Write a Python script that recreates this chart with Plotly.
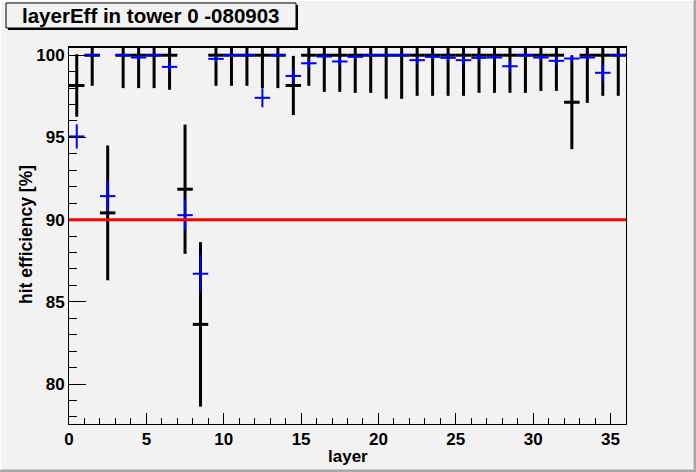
import plotly.graph_objects as go

# ---- data ----
layers = list(range(36))
black_eff = [98.16, 100, 90.41, 100, 100, 100, 100, 91.85, 83.63, 100,
             100, 100, 100, 100, 98.16, 100, 100, 100, 100, 100,
             100, 100, 100, 100, 100, 100, 100, 100, 100, 100,
             100, 100, 97.14, 100, 100, 100]
black_err = [1.9, 1.86, 4.1, 2.0, 2.0, 2.0, 2.1, 3.93, 5.0, 1.86,
             1.86, 1.86, 2.0, 2.0, 1.8, 1.86, 2.23, 2.23, 2.29, 2.29,
             2.65, 2.65, 2.47, 2.47, 2.47, 2.47, 2.29, 2.29, 2.29, 2.29,
             2.17, 2.17, 2.85, 2.9, 2.47, 2.47]
blue_eff = [95.06, 100, 91.43, 100, 99.86, 100, 99.29, 90.27, 86.71, 99.78,
            100, 100, 97.41, 100, 98.74, 99.51, 99.92, 99.62, 99.9, 100,
            100, 100, 99.7, 99.9, 99.84, 99.7, 99.84, 99.86, 99.33, 100,
            99.86, 99.66, 99.8, 99.86, 98.93, 100]
blue_err = [0.74, 0.08, 0.93, 0.08, 0.18, 0.08, 0.3, 0.95, 1.15, 0.2,
            0.08, 0.08, 0.58, 0.08, 0.4, 0.3, 0.12, 0.22, 0.15, 0.08,
            0.08, 0.08, 0.25, 0.15, 0.18, 0.28, 0.18, 0.18, 0.35, 0.08,
            0.18, 0.27, 0.2, 0.18, 0.5, 0.08]
threshold = 90
title_text = "layerEff in tower 0 -080903"
x_title = "layer"
y_title = "hit efficiency [%]"

bin_width = 1.0
xc = [l + bin_width / 2 for l in layers]
half = [bin_width / 2] * len(layers)

W, H = 696, 472
L, R, T, B = 69, 70, 47, 48
PW, PH = W - L - R, H - T - B
BG = "#f2f2f2"
FONT = "Liberation Sans"


def px(x):
    return (x - L) / PW


def py(y):
    return (H - B - y) / PH


fig = go.Figure()
fig.add_trace(go.Scatter(
    x=xc, y=black_eff, mode="markers",
    marker=dict(size=0.1, color="black", opacity=0),
    error_x=dict(type="data", array=half, color="black", thickness=3, width=0),
    error_y=dict(type="data", array=black_err, color="black", thickness=3, width=0),
    showlegend=False, hoverinfo="skip"))
fig.add_trace(go.Scatter(
    x=xc, y=blue_eff, mode="markers",
    marker=dict(size=0.1, color="blue", opacity=0),
    error_x=dict(type="data", array=half, color="#0000ff", thickness=2, width=0),
    error_y=dict(type="data", array=blue_err, color="#0000ff", thickness=2, width=0),
    showlegend=False, hoverinfo="skip"))

shapes = [
    dict(type="line", xref="x", yref="y", x0=0, x1=36, y0=threshold, y1=threshold,
         line=dict(color="#ff0000", width=3), layer="above"),
    # top frame drawn slightly heavier, as in the reference
    dict(type="line", xref="paper", yref="paper", x0=0, x1=1, y0=py(47), y1=py(47),
         line=dict(color="black", width=2), layer="above"),
    # canvas bevel
    dict(type="line", xref="paper", yref="paper", x0=px(W - 1), x1=px(W - 1), y0=py(0), y1=py(H),
         line=dict(color="#a8a8a8", width=3)),
    dict(type="line", xref="paper", yref="paper", x0=px(0), x1=px(W), y0=py(H - 1), y1=py(H - 1),
         line=dict(color="#a8a8a8", width=3)),
    dict(type="line", xref="paper", yref="paper", x0=px(0.5), x1=px(0.5), y0=py(0), y1=py(H - 2),
         line=dict(color="#ffffff", width=1)),
    dict(type="line", xref="paper", yref="paper", x0=px(0), x1=px(W - 2), y0=py(0.5), y1=py(0.5),
         line=dict(color="#ffffff", width=1)),
    # title box shadow + box
    dict(type="rect", xref="paper", yref="paper", x0=px(8), x1=px(298), y0=py(5), y1=py(30),
         fillcolor="black", line=dict(width=0)),
    dict(type="rect", xref="paper", yref="paper", x0=px(6), x1=px(296), y0=py(3), y1=py(28),
         fillcolor=BG, line=dict(color="black", width=1)),
]

annotations = [
    dict(text=title_text, xref="paper", yref="paper", x=px(151), y=py(16),
         xanchor="center", yanchor="middle", showarrow=False,
         font=dict(family=FONT, size=20.5, color="black", weight="bold")),
    dict(text=x_title, xref="paper", yref="paper", x=px(347.5), y=py(456),
         xanchor="center", yanchor="middle", showarrow=False,
         font=dict(family=FONT, size=17, color="black", weight="bold")),
    dict(text=y_title, xref="paper", yref="paper", x=px(26), y=py(235),
         xanchor="center", yanchor="middle", showarrow=False, textangle=-90,
         font=dict(family=FONT, size=17.5, color="black", weight="bold")),
]

tickfont = dict(family=FONT, size=17, color="black", weight="bold")
fig.update_layout(
    width=W, height=H, autosize=False,
    margin=dict(l=L, r=R, t=T, b=B, pad=0),
    paper_bgcolor=BG, plot_bgcolor=BG,
    shapes=shapes, annotations=annotations,
    xaxis=dict(range=[0, 36], showgrid=False, zeroline=False,
               showline=True, linecolor="black", linewidth=1, mirror=True,
               ticks="inside", ticklen=11, tickwidth=1, tickcolor="black",
               tick0=0, dtick=5, tickfont=tickfont,
               minor=dict(ticks="inside", ticklen=6, dtick=1, tickcolor="black", showgrid=False)),
    yaxis=dict(range=[77.57, 100.5], showgrid=False, zeroline=False,
               showline=True, linecolor="black", linewidth=1, mirror=True,
               ticks="inside", ticklen=17, tickwidth=1, tickcolor="black",
               tick0=0, dtick=5, tickfont=tickfont,
               minor=dict(ticks="inside", ticklen=8, dtick=1, tickcolor="black", showgrid=False)),
)

fig.write_html("out.html",
               config=dict(displayModeBar=False, staticPlot=True),
               post_script="document.body.style.margin='0';document.body.style.overflow='hidden';")
